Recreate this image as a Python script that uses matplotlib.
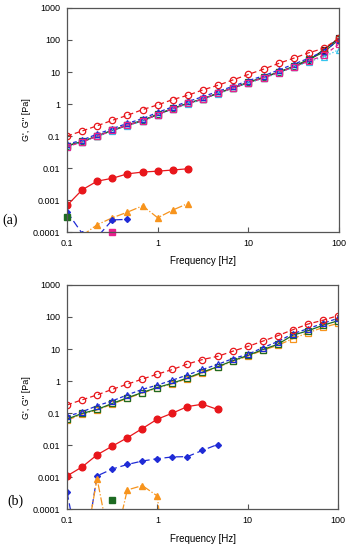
import numpy as np
import matplotlib
matplotlib.use("Agg")
import matplotlib.pyplot as plt
from matplotlib.ticker import FixedLocator, FixedFormatter, NullLocator

# frequencies (6 points per decade, 0.1 - 100 Hz)
freq = [0.1, 0.147, 0.215, 0.316, 0.464, 0.681, 1.0, 1.47, 2.15, 3.16,
        4.64, 6.81, 10.0, 14.7, 21.5, 31.6, 46.4, 68.1, 100.0]

# ---- panel (a) ----
a_red_open = [0.10, 0.144, 0.21, 0.31, 0.445, 0.67, 0.94, 1.38, 1.88, 2.77,
              3.87, 5.7, 8.4, 12.3, 18.5, 27, 40, 55, 115]
a_blue_open = [0.055, 0.075, 0.115, 0.17, 0.25, 0.35, 0.55, 0.82, 1.2, 1.7,
               2.5, 3.6, 5.4, 7.6, 11.5, 17.5, 27, 45, 100]
a_black_open = [0.049, 0.066, 0.10, 0.15, 0.22, 0.30, 0.47, 0.72, 1.05, 1.43,
                2.2, 3.2, 4.7, 6.7, 9.8, 14.5, 23, 50, 115]
a_green_open = [0.050, 0.068, 0.10, 0.15, 0.22, 0.31, 0.48, 0.73, 1.06, 1.45,
                2.2, 3.2, 4.8, 6.8, 10.0, 15, 25, 42, 105]
a_cyan_open = [0.047, 0.065, 0.097, 0.145, 0.21, 0.29, 0.45, 0.70, 1.0, 1.4,
               2.1, 3.1, 4.5, 6.4, 9.3, 14, 21, 30, 50]
a_mag_open = [0.046, 0.066, 0.098, 0.15, 0.22, 0.30, 0.47, 0.72, 1.04, 1.43,
              2.2, 3.2, 4.6, 6.6, 9.6, 14.5, 22, 33, 75]

a_red_fill = [0.00068, 0.0021, 0.0039, 0.0048, 0.0066, 0.0075, 0.0080, 0.0087, 0.0095]
a_orange_f = [0.147, 0.215, 0.316, 0.464, 0.681, 1.0, 1.47, 2.15]
a_orange = [0.000078, 0.00017, 0.00028, 0.00042, 0.00066, 0.00028, 0.00049, 0.00078]
a_blue_f = [0.1, 0.147, 0.215, 0.316, 0.464]
a_blue_fill = [0.00043, 0.00009, 0.00007, 0.00024, 0.00025]
a_green_fill = 0.0003   # at 0.1 Hz
a_mag_fill = 0.0001     # at 0.316 Hz

# ---- panel (b) ----
b_red_open = [0.18, 0.26, 0.37, 0.55, 0.80, 1.15, 1.65, 2.3, 3.4, 4.7,
              5.9, 8.5, 12, 17.6, 26, 40, 60, 79, 110]
b_blue_open = [0.079, 0.11, 0.17, 0.24, 0.37, 0.55, 0.75, 1.07, 1.55, 2.3,
               3.3, 5.0, 6.8, 11, 17, 30, 43, 63, 91]
b_green_open = [0.065, 0.098, 0.13, 0.20, 0.30, 0.44, 0.63, 0.86, 1.25, 1.9,
                2.8, 4.3, 6.3, 9.6, 14, 27, 37, 55, 76]
b_orange_open = [0.060, 0.093, 0.126, 0.19, 0.29, 0.42, 0.61, 0.83, 1.19, 1.8,
                 2.7, 4.1, 6.0, 9.1, 13, 21, 32, 47, 63]

b_red_f = freq[:11]
b_red_fill = [0.0011, 0.0021, 0.0050, 0.0093, 0.017, 0.033, 0.065, 0.10, 0.16, 0.19, 0.13]
b_blue_f = freq[:11]
b_blue_fill = [0.00034, 0.0000014, 0.0011, 0.0018, 0.0025, 0.0032, 0.0038, 0.0043,
               0.0044, 0.0069, 0.0105]
b_orange_f = freq[1:8]
b_orange = [0.000002, 0.00091, 0.0000036, 0.00040, 0.00055, 0.00026, 0.00000001]
b_green_fill = 0.00019  # at 0.316 Hz

RED = "#e8161b"
BLUE = "#1f2bd6"
BLACK = "#222222"
GREEN = "#1d6b22"
CYAN = "#33c4ee"
MAG = "#e8208e"
ORANGE = "#f7941d"

plt.rcParams["font.family"] = ["Liberation Sans", "DejaVu Sans"]

fig = plt.figure(figsize=(3.51, 5.50), dpi=100)
ax1 = fig.add_axes([0.191, 0.578, 0.775, 0.4075])
ax2 = fig.add_axes([0.191, 0.074, 0.772, 0.408])

ms = 4.6
lw = 0.9


def style_axes(ax):
    ax.set_xscale("log")
    ax.set_yscale("log")
    ax.set_xlim(0.1, 100)
    ax.set_ylim(0.0001, 1000)
    yt = [0.0001, 0.001, 0.01, 0.1, 1, 10, 100, 1000]
    ax.yaxis.set_major_locator(FixedLocator(yt))
    ax.yaxis.set_major_formatter(FixedFormatter(["0.0001", "0.001", "0.01", "0.1",
                                                 "1", "10", "100", "1000"]))
    xt = [0.1, 1, 10, 100]
    ax.xaxis.set_major_locator(FixedLocator(xt))
    ax.xaxis.set_major_formatter(FixedFormatter(["0.1", "1", "10", "100"]))
    ax.xaxis.set_minor_locator(NullLocator())
    ax.yaxis.set_minor_locator(NullLocator())
    ax.tick_params(direction="in", length=3.5, width=0.8, color="#555555",
                   labelsize=6.5, pad=5)
    for s in ax.spines.values():
        s.set_color("#555555")
        s.set_linewidth(0.9)
    ax.set_xlabel("Frequency [Hz]", fontsize=7, labelpad=6)
    ax.set_ylabel("G', G'' [Pa]", fontsize=6.5, labelpad=1)


def open_line(ax, y, color, ls, marker):
    ax.plot(freq, y, color=color, ls=ls, lw=lw, marker=marker, ms=ms,
            mfc="none", mec=color, mew=0.9)


# panel (a)
open_line(ax1, a_black_open, BLACK, "-", "s")
open_line(ax1, a_green_open, GREEN, "-", "s")
open_line(ax1, a_cyan_open, CYAN, ":", "^")
open_line(ax1, a_blue_open, BLUE, (0, (3, 2)), "^")
open_line(ax1, a_mag_open, MAG, (0, (3, 2)), "s")
open_line(ax1, a_red_open, RED, (0, (4, 2.5)), "o")

ax1.plot(freq[:9], a_red_fill, color=RED, ls="-", lw=lw, marker="o", ms=ms + 0.2)
ax1.plot(a_orange_f, a_orange, color=ORANGE, ls="-.", lw=lw, marker="^", ms=ms)
ax1.plot(a_blue_f, a_blue_fill, color=BLUE, ls=(0, (6, 3)), lw=lw, marker="D", ms=3)
ax1.plot([0.1], [a_green_fill], color=GREEN, marker="s", ms=ms, ls="none", clip_on=False)
ax1.plot([0.316], [a_mag_fill], color=MAG, marker="s", ms=ms, ls="none", clip_on=False)
style_axes(ax1)

# panel (b)
open_line(ax2, b_orange_open, ORANGE, "-.", "s")
open_line(ax2, b_green_open, GREEN, "-", "s")
open_line(ax2, b_blue_open, BLUE, (0, (3, 2)), "^")
open_line(ax2, b_red_open, RED, (0, (4, 2.5)), "o")

ax2.plot(b_red_f, b_red_fill, color=RED, ls="-", lw=lw, marker="o", ms=ms + 0.2)
ax2.plot(b_blue_f, b_blue_fill, color=BLUE, ls=(0, (6, 3)), lw=lw, marker="D", ms=3)
ax2.plot(b_orange_f, b_orange, color=ORANGE, ls="-.", lw=lw, marker="^", ms=ms)
ax2.plot([0.316], [b_green_fill], color=GREEN, marker="s", ms=ms, ls="none")
style_axes(ax2)

serif = ["Liberation Serif", "DejaVu Serif"]
fig.text(0.008, 0.60, "(a)", fontsize=10, family=serif, va="center")
fig.text(0.02, 0.088, "(b)", fontsize=10, family=serif, va="center")

fig.savefig("out.png", dpi=100)
